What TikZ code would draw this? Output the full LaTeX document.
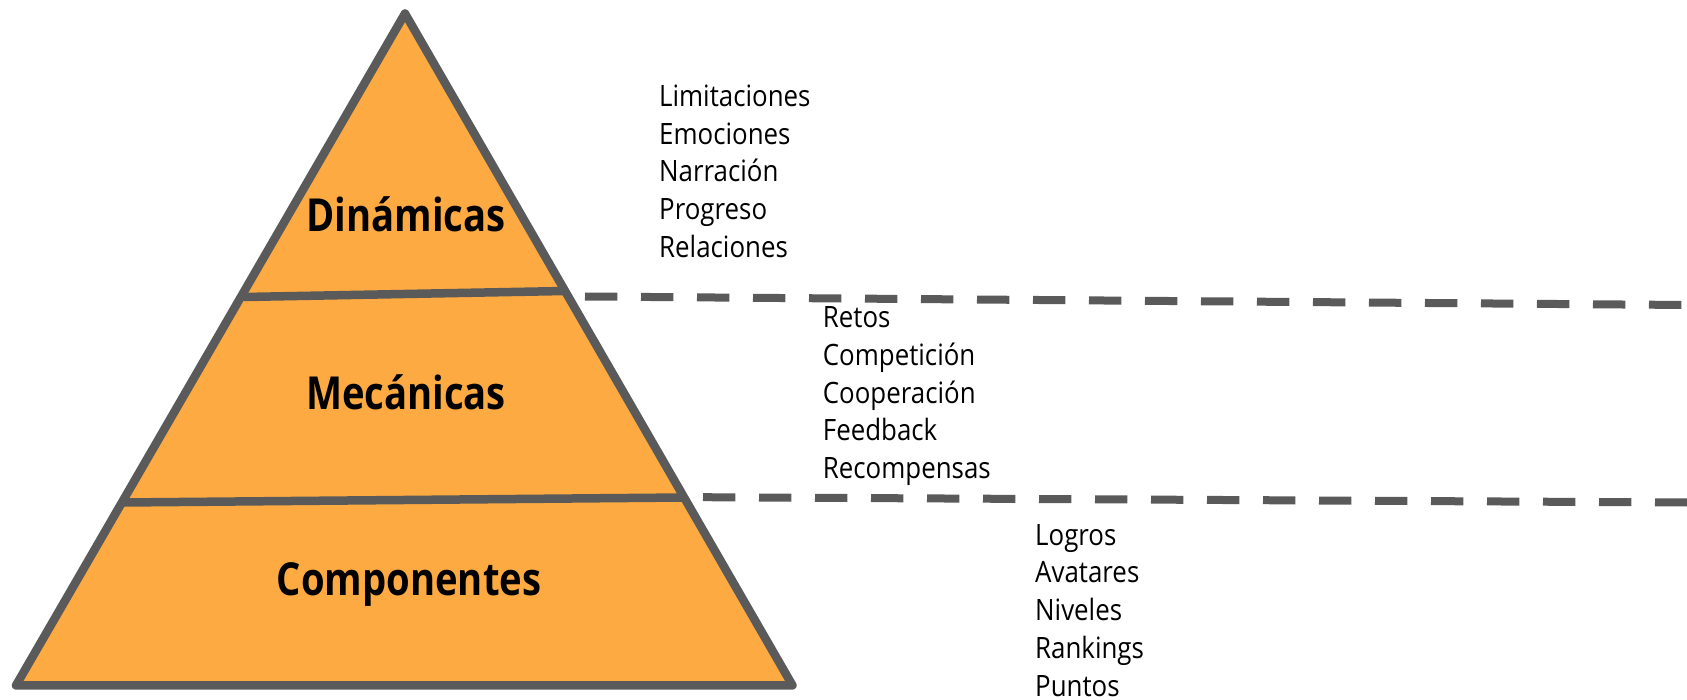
\documentclass[tikz,border=0pt]{standalone}
\usepackage{fontspec}
\newfontfamily\listfont[FakeStretch=0.88]{Open Sans}
\newfontfamily\headfont[FakeStretch=0.84]{Open Sans}
\definecolor{pyrfill}{RGB}{253,170,66}
\definecolor{pyrline}{RGB}{90,90,90}
\tikzset{
  pyr/.style={draw=pyrline, line width=8.5pt, line join=round},
  divider/.style={draw=pyrline, line width=8.5pt},
  dashline/.style={draw=pyrline, line width=8pt, dash pattern=on 32.3pt off 23.7pt},
  item/.style={anchor=base west, inner sep=0pt, font=\listfont\fontsize{29.4}{36}\selectfont},
  head/.style={anchor=base, inner sep=0pt, font=\headfont\bfseries\fontsize{45.5}{50}\selectfont}
}
\begin{document}
\begin{tikzpicture}[x=1pt,y=-1pt]
\useasboundingbox (0,0) rectangle (1687,700);
% pyramid
\coordinate (apex) at (405,13.5);
\coordinate (bl) at (16,685.4);
\coordinate (br) at (792.5,685.4);
\fill[pyrfill] (apex) -- (bl) -- (br) -- cycle;
% dividers
\coordinate (a1) at (244,297);
\coordinate (b1) at (565,291);
\coordinate (a2) at (123,502.5);
\coordinate (b2) at (684,497.5);
\draw[divider] (a1) -- (b1);
\draw[divider] (a2) -- (b2);
\draw[pyr] (apex) -- (bl) -- (br) -- cycle;
% dashed lines
\coordinate (s1) at (585,296.5);
\coordinate (e1) at (1687,305);
\coordinate (s2) at (703,497.2);
\coordinate (e2) at (1687,502.5);
\draw[dashline] (s1) -- (e1);
\draw[dashline] (s2) -- (e2);
% headings
\node[head] (hdin) at (406,231.3) {Dinámicas};
\node[head] (hmec) at (406,409.8) {Mecánicas};
\node[head] (hcom) at (409,595.5) {Componentes};
% lists
\foreach \t [count=\i] in {Limitaciones,Emociones,Narración,Progreso,Relaciones}
  \node[item] (din\i) at (659,{106.3+37.75*(\i-1)}) {\t};
\foreach \t [count=\i] in {Retos,Competición,Cooperación,Feedback,Recompensas}
  \node[item] (mec\i) at (822.7,{327.3+37.9*(\i-1)}) {\t};
\foreach \t [count=\i] in {Logros,Avatares,Niveles,Rankings,Puntos}
  \node[item] (com\i) at (1035,{545+37.75*(\i-1)}) {\t};
\end{tikzpicture}
\end{document}
